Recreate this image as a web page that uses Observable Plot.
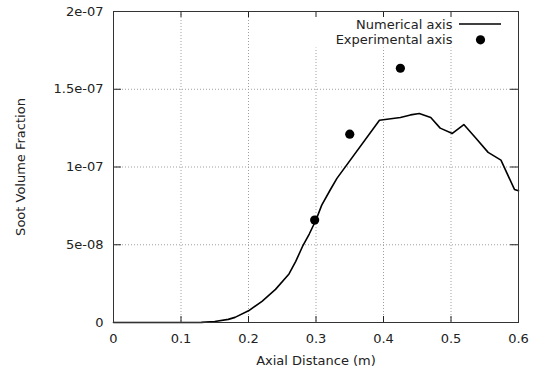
<!DOCTYPE html>
<html>
<head>
<meta charset="utf-8">
<script src="https://cdn.jsdelivr.net/npm/d3@7"></script>
<script src="https://cdn.jsdelivr.net/npm/@observablehq/plot@0.6"></script>
<style>
  html, body { margin: 0; padding: 0; background: #fff; }
  #chart svg { display: block; }
</style>
</head>
<body>
<div id="chart"></div>
<script>
// Simulated soot volume fraction along the flame axis
const numX = [0, 0.1, 0.13, 0.15, 0.17, 0.18, 0.2, 0.22, 0.24, 0.26, 0.27, 0.28, 0.29, 0.3, 0.3085, 0.321, 0.331,
              0.394, 0.425, 0.44, 0.453, 0.47, 0.484, 0.502, 0.519, 0.536, 0.555, 0.574, 0.594, 0.6];
const numY = [0, 0, 0.01e-8, 0.06e-8, 0.2e-8, 0.33e-8, 0.75e-8, 1.36e-8, 2.13e-8, 3.12e-8, 3.93e-8, 4.89e-8, 5.69e-8, 6.59e-8, 7.55e-8, 8.52e-8, 9.27e-8,
              13.01e-8, 13.18e-8, 13.35e-8, 13.44e-8, 13.18e-8, 12.50e-8, 12.16e-8, 12.73e-8, 11.90e-8, 10.94e-8, 10.44e-8, 8.56e-8, 8.47e-8];

// Measured values
const expX = [0.298, 0.35, 0.425];
const expY = [6.59e-8, 12.11e-8, 16.35e-8];

const xTicks = [0, 0.1, 0.2, 0.3, 0.4, 0.5, 0.6];
const xTickLabels = ["0", "0.1", "0.2", "0.3", "0.4", "0.5", "0.6"];
const yTicks = [0, 5e-8, 1e-7, 1.5e-7, 2e-7];
const yTickLabels = ["0", "5e-08", "1e-07", "1.5e-07", "2e-07"];

const seriesNames = ["Numerical axis", "Experimental axis"];
const xLabel = "Axial Distance (m)";
const yLabel = "Soot Volume Fraction";

const numerical = numX.map((x, i) => ({x, y: numY[i]}));
const experimental = expX.map((x, i) => ({x, y: expY[i]}));

const W = 538, H = 372;
const mL = 113, mR = 20, mT = 11, mB = 50;
const innerW = W - mL - mR;
const innerH = H - mT - mB;
const ink = "#222";
const gridStyle = {stroke: "#a0a0a0", strokeOpacity: 1, strokeDasharray: "1,2", strokeWidth: 1};

const chart = Plot.plot({
  width: W,
  height: H,
  marginLeft: mL,
  marginRight: mR,
  marginTop: mT,
  marginBottom: mB,
  style: {fontFamily: "'DejaVu Sans', sans-serif", fontSize: "13px", color: ink, background: "white"},
  x: {domain: [0, 0.6]},
  y: {domain: [0, 2e-7]},
  marks: [
    Plot.gridX(xTicks, gridStyle),
    Plot.gridY(yTicks, gridStyle),
    // opaque key box
    Plot.frame({fill: "white", stroke: null, insetLeft: 192, insetBottom: 275, insetTop: 1, insetRight: 1}),
    Plot.line(numerical, {x: "x", y: "y", stroke: "black", strokeWidth: 1.6}),
    Plot.dot(experimental, {x: "x", y: "y", r: 4.6, fill: "black"}),
    // inward tick marks on all four sides
    Plot.tickX(xTicks, {x: d => d, insetTop: innerH - 6, stroke: ink}),
    Plot.tickX(xTicks, {x: d => d, insetBottom: innerH - 6, stroke: ink}),
    Plot.tickY(yTicks, {y: d => d, insetRight: innerW - 8, stroke: ink}),
    Plot.tickY(yTicks, {y: d => d, insetLeft: innerW - 8, stroke: ink}),
    Plot.frame({stroke: "#333", strokeWidth: 1}),
    Plot.axisX(xTicks, {tickSize: 0, tickPadding: 11, tickFormat: d => xTickLabels[xTicks.indexOf(d)], label: null, fill: ink}),
    Plot.axisY(yTicks, {tickSize: 0, tickPadding: 10, tickFormat: d => yTickLabels[yTicks.indexOf(d)], label: null, fill: ink}),
    Plot.text([xLabel], {frameAnchor: "bottom", dy: 38, textAnchor: "middle", lineAnchor: "middle", fill: ink}),
    Plot.text([yLabel], {frameAnchor: "left", dx: -93, rotate: -90, textAnchor: "middle", lineAnchor: "middle", fill: ink}),
    // key
    Plot.text([seriesNames[0]], {frameAnchor: "top-right", dx: -66, dy: 13, textAnchor: "end", lineAnchor: "middle", fill: ink}),
    Plot.text([seriesNames[1]], {frameAnchor: "top-right", dx: -66, dy: 28.3, textAnchor: "end", lineAnchor: "middle", fill: ink}),
    Plot.dot([seriesNames[1]], {frameAnchor: "top-right", dx: -38, dy: 28.3, r: 4.6, fill: "black"})
  ]
});

// key sample line for the simulated series
d3.select(chart).append("line")
  .attr("x1", 459).attr("x2", 501)
  .attr("y1", mT + 13).attr("y2", mT + 13)
  .attr("stroke", "black").attr("stroke-width", 1.6);

document.getElementById("chart").appendChild(chart);
</script>
</body>
</html>
